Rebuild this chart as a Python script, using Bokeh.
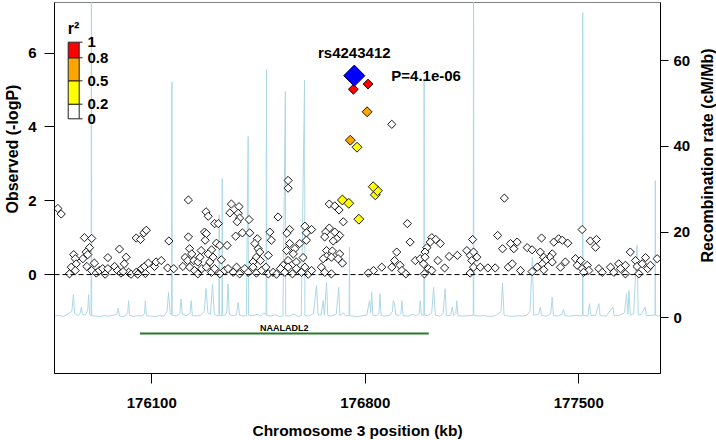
import numpy as np
from bokeh.plotting import figure
from bokeh.layouts import row
from bokeh.models import Range1d, LinearAxis, Span, Label, FixedTicker, BasicTickFormatter, Title
from bokeh.core.properties import value
from bokeh.embed import file_html
from bokeh.resources import INLINE

# ---------------- data ----------------
recomb_pos = [175781, 175795, 175810, 175825, 175838, 175843, 175847, 175858, 175866, 175869,
              175872, 175882, 175890, 175893, 175896, 175901, 175902, 175903, 175915, 175930,
              175945, 175960, 175975, 175986, 175990, 175994, 176005, 176015, 176021, 176024,
              176027, 176040, 176055, 176068, 176076, 176079, 176082, 176095, 176110, 176125,
              176140, 176150, 176155, 176160, 176165, 176166, 176167, 176180, 176192, 176196,
              176200, 176212, 176225, 176229, 176233, 176245, 176260, 176272, 176278, 176284,
              176292, 176299, 176305, 176314, 176320, 176321, 176322, 176330, 176331, 176332,
              176340, 176346, 176350, 176354, 176365, 176378, 176383, 176388, 176400, 176410,
              176416, 176417, 176430, 176445, 176458, 176468, 176475, 176476, 176477, 176490,
              176505, 176520, 176530, 176538, 176539, 176550, 176565, 176580, 176590, 176601,
              176602, 176615, 176630, 176640, 176645, 176655, 176662, 176666, 176673, 176677,
              176690, 176705, 176713, 176717, 176728, 176735, 176747, 176748, 176749, 176760,
              176775, 176790, 176805, 176814, 176818, 176821, 176825, 176838, 176845, 176848,
              176852, 176865, 176880, 176889, 176892, 176896, 176900, 176910, 176917, 176920,
              176924, 176940, 176955, 176968, 176977, 176980, 176984, 176992, 176993, 176994,
              177005, 177018, 177024, 177030, 177045, 177055, 177062, 177066, 177080, 177085,
              177090, 177097, 177100, 177104, 177120, 177140, 177154, 177155, 177156, 177170,
              177190, 177210, 177230, 177245, 177250, 177255, 177270, 177285, 177300, 177315,
              177330, 177340, 177348, 177352, 177368, 177374, 177378, 177395, 177408, 177413,
              177417, 177430, 177445, 177450, 177455, 177470, 177490, 177505, 177512, 177513,
              177514, 177530, 177535, 177540, 177555, 177566, 177570, 177590, 177612, 177616,
              177635, 177650, 177657, 177661, 177665, 177669, 177680, 177691, 177695, 177705,
              177718, 177722, 177740, 177750, 177751, 177752, 177760, 177768]
recomb_rate = [0.4, 0.6, 0.3, 0.9, 1.5, 5.4, 1.0, 0.5, 1.2, 2.5,
               0.8, 0.6, 1.8, 5.4, 1.0, 0.5, 95.0, 0.5, 0.4, 0.3,
               0.5, 0.4, 0.6, 0.9, 2.3, 0.4, 0.3, 0.6, 1.2, 4.0,
               0.6, 0.3, 0.5, 0.4, 1.0, 4.0, 0.5, 0.4, 0.3, 0.5,
               0.4, 1.5, 5.9, 1.2, 0.6, 55.0, 0.6, 0.4, 1.0, 4.4,
               0.8, 0.5, 1.0, 4.0, 0.6, 0.4, 0.6, 1.5, 6.8, 1.2,
               0.8, 7.9, 0.8, 0.5, 0.5, 24.0, 0.5, 0.5, 32.5, 0.6,
               0.6, 1.5, 7.9, 0.8, 0.5, 0.7, 3.6, 0.6, 0.4, 0.5,
               42.3, 0.6, 0.5, 0.8, 0.4, 1.2, 0.6, 57.9, 0.6, 0.4,
               0.7, 0.3, 0.5, 52.8, 0.5, 0.4, 0.9, 0.3, 0.5, 55.4,
               0.5, 0.4, 1.0, 7.5, 0.8, 0.6, 4.0, 0.6, 8.3, 0.6,
               0.4, 0.9, 7.1, 0.5, 1.2, 0.5, 0.5, 16.5, 0.5, 0.4,
               0.3, 0.5, 0.6, 4.0, 1.2, 6.0, 0.6, 0.5, 1.2, 5.6,
               0.5, 0.4, 0.6, 1.5, 4.0, 3.3, 0.7, 0.5, 1.0, 4.0,
               0.5, 0.4, 0.8, 0.5, 1.0, 4.0, 0.6, 0.6, 55.7, 0.6,
               0.5, 1.2, 7.1, 0.6, 0.4, 1.0, 6.8, 0.5, 0.6, 2.5,
               0.5, 1.0, 4.0, 0.5, 0.4, 0.5, 0.6, 95.0, 0.6, 0.4,
               0.5, 0.3, 0.6, 1.5, 8.1, 0.6, 0.4, 0.3, 0.5, 0.4,
               0.6, 1.5, 14.1, 0.6, 0.8, 2.5, 0.5, 0.4, 1.0, 4.8,
               0.5, 0.4, 0.8, 2.0, 0.5, 0.4, 0.6, 0.4, 0.6, 71.2,
               0.6, 0.4, 3.3, 0.5, 0.6, 3.3, 0.5, 0.4, 2.5, 0.5,
               0.6, 1.2, 5.6, 0.8, 6.4, 0.6, 1.0, 16.9, 0.6, 0.8,
               2.5, 0.5, 0.6, 0.6, 32.0, 0.6, 0.4, 0.5]

# SNPs with r2 < 0.2 (white)
snp_pos = [175792, 175803, 176220, 175879, 175903, 176049, 176063, 176074, 176082, 176156,
           176220, 175994, 175956, 175896, 175885, 175890, 175874, 175844, 175849, 175852,
           175836, 175830, 175849, 175887, 175912, 175903, 175918, 175928, 175939, 175947,
           175956, 175978, 175988, 175999, 176016, 176010, 176024, 176032, 176049, 176054,
           176067, 176076, 176089, 176109, 176114, 176131, 176152, 176172, 176202, 176209,
           176224, 176231, 176218, 176238, 176251, 176262, 176258, 176224, 176240, 176251,
           176264, 176275, 176273, 176278, 176285, 176079, 176006,
           176547, 176547, 176361, 176386, 176356, 176383, 176388, 176380, 176419, 176514,
           176306, 176318, 176682, 176700, 176714, 176728, 176279, 176375, 176397, 176421,
           176446, 176487, 176492, 176552, 176543, 176602, 176624, 176607, 176607, 176682,
           176670, 176667, 176700, 176716, 176706, 176695, 176312, 176323, 176347, 176296,
           176285, 176301, 176328, 176290, 176438, 176449, 176454, 176482, 176443, 176456,
           176432, 176552, 176569, 176585, 176542, 176564, 176596, 176547, 176531, 176574,
           176673, 176692, 176673, 176689, 176716, 176711, 176725, 176662,
           176279, 176296, 176306, 176323, 176339, 176350, 176367, 176378, 176388, 176405,
           176416, 176432, 176443, 176460, 176474, 176482, 176498, 176509, 176522, 176536,
           176547, 176561, 176574, 176591, 176602, 176613, 176624, 176656, 176667, 176689,
           177256, 176938, 176947, 177018, 177031, 177013, 177046, 177002, 176996, 177152,
           177234, 177250, 176903, 176896, 176887, 176914, 176920, 176933, 176854, 176827,
           176810, 176964, 176980, 176991, 176996, 177007, 177018, 176994, 177038, 177060,
           177075, 177102, 177133, 177144, 177155, 177166, 177149, 177155, 177144, 177177,
           177202, 177226, 177269, 176887,
           177276, 177298, 177287, 177282, 177309, 177378, 177511, 177418, 177434, 177446,
           177464, 177538, 177558, 177555, 177331, 177347, 177374, 177413, 177405, 177385,
           177391, 177380, 177364, 177347, 177385, 177413, 177440, 177456, 177489, 177506,
           177495, 177511, 177528, 177533, 177516, 177566, 177577, 177604, 177615, 177631,
           177637, 177653, 177653, 177669, 177686, 177691, 177697, 177708, 177719, 177726,
           177735, 177757]
snp_logp = [1.79, 1.64, 2.02, 1.00, 0.98, 0.99, 0.95, 1.13, 1.20, 0.91,
            1.02, 0.69, 0.46, 0.73, 0.61, 0.54, 0.43, 0.54, 0.43, 0.29,
            0.20, 0.02, 0.11, 0.22, 0.31, 0.11, 0.04, 0.11, 0.16, 0.01,
            0.16, 0.22, 0.11, 0.04, 0.47, 0.29, 0.06, 0.01, 0.06, 0.01,
            0.16, 0.22, 0.31, 0.22, 0.34, 0.38, 0.18, 0.16, 0.22, 0.46,
            0.70, 0.56, 0.38, 0.38, 0.34, 0.65, 0.47, 0.20, 0.11, 0.02,
            0.16, 0.93, 1.15, 1.70, 1.58, 0.03, 0.08,
            2.55, 2.34, 1.91, 1.84, 1.67, 1.66, 1.53, 1.43, 1.49, 1.56,
            1.38, 1.38, 1.91, 1.86, 1.75, 1.43, 1.11, 1.04, 1.13, 1.13,
            0.97, 1.15, 0.93, 1.22, 1.12, 1.31, 1.22, 1.13, 0.93, 1.26,
            1.15, 1.02, 1.15, 1.06, 0.97, 0.91, 0.85, 0.79, 0.79, 0.67,
            0.56, 0.47, 0.40, 0.34, 0.84, 0.70, 0.61, 0.52, 0.47, 0.38,
            0.34, 0.84, 0.70, 0.84, 0.65, 0.56, 0.46, 0.38, 0.25, 0.34,
            0.65, 0.64, 0.49, 0.47, 0.56, 0.43, 0.31, 0.43,
            0.20, 0.06, 0.16, 0.02, 0.11, 0.16, 0.06, 0.20, 0.02, 0.16,
            0.06, 0.20, 0.04, 0.11, 0.20, 0.02, 0.06, 0.01, 0.16, 0.06,
            0.20, 0.02, 0.16, 0.06, 0.20, 0.01, 0.11, 0.20, 0.06, 0.02,
            2.07, 1.38, 0.88, 1.00, 0.95, 0.88, 0.84, 0.73, 0.61, 0.95,
            1.06, 0.70, 0.61, 0.38, 0.20, 0.25, 0.11, 0.02, 0.20, 0.11,
            0.04, 0.38, 0.43, 0.29, 0.47, 0.16, 0.11, 0.02, 0.38, 0.18,
            0.49, 0.52, 0.65, 0.52, 0.61, 0.47, 0.38, 0.20, 0.04, 0.20,
            0.18, 0.18, 0.20, 4.07,
            0.84, 0.88, 0.70, 0.29, 0.11, 0.99, 1.22, 0.88, 0.97, 0.93,
            0.85, 0.91, 0.95, 0.74, 0.73, 0.67, 0.61, 0.56, 0.47, 0.47,
            0.38, 0.29, 0.20, 0.08, 0.13, 0.34, 0.20, 0.34, 0.43, 0.38,
            0.25, 0.16, 0.25, 0.11, 0.06, 0.16, 0.06, 0.20, 0.06, 0.29,
            0.16, 0.25, 0.02, 0.61, 0.38, 0.22, 0.02, 0.29, 0.46, 0.16,
            0.25, 0.43]

# SNPs in LD with the lead SNP (r2 >= 0.2)
ld_pos = [176761, 176809, 176806, 176751, 176773, 176826, 176840, 176833, 176725, 176746, 176779]
ld_logp = [5.02, 5.16, 4.41, 3.64, 3.45, 2.38, 2.27, 2.16, 2.02, 1.93, 1.50]
ld_r2 = [0.90, 0.85, 0.70, 0.65, 0.45, 0.35, 0.35, 0.30, 0.30, 0.30, 0.25]

lead_snp = "rs4243412"
lead_pos = 176764
lead_p = 4.1e-06

gene_names = ["NAALADL2"]
gene_start = [176061]
gene_end = [177008]

r2_breaks = [0.0, 0.2, 0.5, 0.8, 1.0]
r2_colors = ["white", "yellow", "orange", "red"]
r2_labels = ["0", "0.2", "0.5", "0.8", "1"]

x_ticks = [176100, 176800, 177500]
y_ticks = [0, 2, 4, 6]
recomb_ticks = [0, 20, 40, 60]

# ---------------- layout ----------------
FONT = "Liberation Sans"
X0, X1 = 175781, 177768
Y0, Y1 = -2.68, 7.37
R0, R1 = -12.99, 73.54
FW, FH = 606, 371
FL, FT = 53, 2          # canvas position of frame left / top
RB, BB = 38, 66         # right / bottom border of the main plot
SIDE_W = 18             # narrow strip holding the right-hand title
H = FT + FH + BB

px_x = FW / (X1 - X0)
px_y = FH / (Y1 - Y0)


def xpx(cx):
    return X0 + (cx - FL) / px_x


def ypx(cy):
    return Y1 - (cy - FT) / px_y


p = figure(frame_width=FW, frame_height=FH,
           x_range=Range1d(X0, X1), y_range=Range1d(Y0, Y1),
           output_backend="svg", toolbar_location=None,
           min_border_left=FL, min_border_right=RB,
           min_border_top=FT, min_border_bottom=BB,
           background_fill_color="white", border_fill_color="white")
p.grid.visible = False
p.outline_line_color = "#808080"
p.outline_line_width = 1

p.extra_y_ranges = {"recomb": Range1d(R0, R1)}


def style_axis(ax, tick_out, standoff):
    ax.axis_line_color = "black"
    ax.axis_line_width = 1
    ax.major_tick_line_color = "black"
    ax.major_tick_out = tick_out
    ax.major_tick_in = 0
    ax.minor_tick_out = 0
    ax.minor_tick_in = 0
    ax.major_label_standoff = standoff
    ax.major_label_text_font = FONT
    ax.major_label_text_font_style = "bold"
    ax.major_label_text_font_size = "15px"
    ax.major_label_text_color = "black"
    ax.axis_label_text_font = FONT
    ax.axis_label_text_font_style = "bold"
    ax.axis_label_text_color = "black"


xax = p.xaxis[0]
style_axis(xax, 10, 14)
xax.ticker = FixedTicker(ticks=x_ticks)
xax.formatter = BasicTickFormatter(use_scientific=False)
xax.axis_label = "Chromosome 3 position (kb)"
xax.axis_label_standoff = 11
xax.axis_label_text_font_size = "15.5px"

yax = p.yaxis[0]
style_axis(yax, 10, 8)
yax.ticker = FixedTicker(ticks=y_ticks)

raxis = LinearAxis(y_range_name="recomb", ticker=FixedTicker(ticks=recomb_ticks))
style_axis(raxis, 8, 5)
p.add_layout(raxis, "right")

# left title, started 160px above the frame bottom (as in the reference)
p.add_layout(Title(text="Observed (-logP)", align="left", offset=160, vertical_align="top",
                   standoff=6, text_font=FONT, text_font_style="bold",
                   text_font_size="16px", text_color="black"), "left")

# recombination rate
p.line(recomb_pos, recomb_rate, y_range_name="recomb", line_color="#ADD8E6", line_width=1)

# zero line
p.add_layout(Span(location=0, dimension="width", line_color="black",
                  line_dash="5 3", line_width=1))

# gene track
gene_y = ypx(333)
p.segment(x0=gene_start, y0=[gene_y] * len(gene_start), x1=gene_end, y1=[gene_y] * len(gene_end),
          line_color="#2a7a2a", line_width=2)
p.text(x=[(a + b) / 2 for a, b in zip(gene_start, gene_end)], y=[ypx(327)] * len(gene_names),
       text=gene_names, text_font=value(FONT), text_font_style="bold",
       text_font_size="9px", text_align="center", text_baseline="middle", text_color="black")

# SNPs
p.scatter(snp_pos, snp_logp, marker="square", angle=np.pi / 4, size=5.8,
          fill_color="white", line_color="black", line_width=0.9)


def r2_color(r):
    for i in range(len(r2_colors)):
        if r2_breaks[i] <= r < r2_breaks[i + 1] or (i == len(r2_colors) - 1 and r == r2_breaks[-1]):
            return r2_colors[i]
    return "white"


order = np.argsort(ld_r2)
p.scatter([ld_pos[i] for i in order], [ld_logp[i] for i in order], marker="square",
          angle=np.pi / 4, size=7, fill_color=[r2_color(ld_r2[i]) for i in order],
          line_color="black", line_width=0.9)

lead_logp = -np.log10(lead_p)
p.scatter([lead_pos], [lead_logp], marker="square", angle=np.pi / 4, size=15,
          fill_color="blue", line_color="#000060", line_width=1)

p.add_layout(Label(x=lead_pos, y=lead_logp + 23 / px_y, text=lead_snp,
                   text_font=FONT, text_font_style="bold", text_font_size="15px",
                   text_align="center", text_baseline="middle", text_color="black"))
p.add_layout(Label(x=lead_pos + 37 / px_x, y=lead_logp, text="P=%.1e" % lead_p,
                   text_font=FONT, text_font_style="bold", text_font_size="15px",
                   text_align="left", text_baseline="middle", text_color="black"))

# r2 legend (colour bar)
leg_edges = [118.3, 103.7, 80.3, 57.3, 41.7]   # canvas y of 0, 0.2, 0.5, 0.8, 1
leg_y = [ypx(v) for v in leg_edges]
p.quad(left=[xpx(66.7)] * 4, right=[xpx(77.7)] * 4,
       bottom=leg_y[:-1], top=leg_y[1:], fill_color=r2_colors,
       line_color="#222222", line_width=1)
p.segment(x0=[xpx(77.7)] * 5, x1=[xpx(81)] * 5, y0=leg_y, y1=leg_y,
          line_color="#222222", line_width=1)
for lab, yy in zip(r2_labels, leg_y):
    p.add_layout(Label(x=xpx(86), y=yy, text=lab, text_font=FONT, text_font_style="bold",
                       text_font_size="15px", text_align="left", text_baseline="middle",
                       text_color="black"))
p.add_layout(Label(x=xpx(72), y=ypx(28), text="r\u00b2", text_font=FONT, text_font_style="bold",
                   text_font_size="16px", text_align="center", text_baseline="middle",
                   text_color="black"))

# narrow strip on the right with the recombination-rate title (reads bottom to top)
side = figure(width=SIDE_W, height=H, x_range=Range1d(0, SIDE_W), y_range=Range1d(0, H),
              output_backend="svg", toolbar_location=None,
              x_axis_location=None, y_axis_location=None,
              min_border_left=0, min_border_right=0, min_border_top=0, min_border_bottom=0,
              background_fill_color="white", border_fill_color="white")
side.outline_line_color = None
side.grid.visible = False
side.add_layout(Label(x=SIDE_W / 2, y=H - 182, text="Recombination rate (cM/Mb)",
                      angle=np.pi / 2, text_font=FONT, text_font_style="bold",
                      text_font_size="16px", text_align="center", text_baseline="middle",
                      text_color="black"))

layout = row(p, side, spacing=0)
open("out.html", "w").write(file_html(layout, INLINE))
